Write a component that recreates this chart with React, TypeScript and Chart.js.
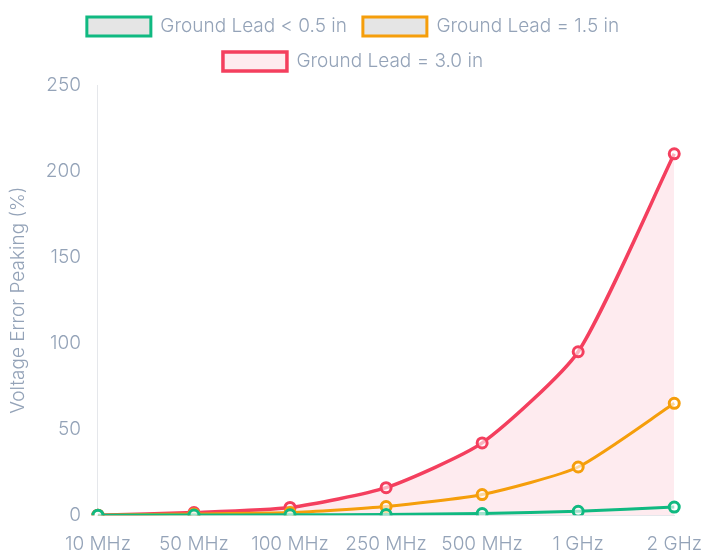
import { useEffect, useRef } from "react";
import { Chart, registerables, ChartConfiguration, Plugin } from "chart.js";

Chart.register(...registerables);

const frequencies = ["10 MHz", "50 MHz", "100 MHz", "250 MHz", "500 MHz", "1 GHz", "2 GHz"];
const leadShort = [0, 0.1, 0.2, 0.4, 1, 2.3, 4.7];
const lead15 = [0, 0.7, 1.5, 5, 12, 28, 65];
const lead30 = [0, 1.5, 4.5, 16, 42, 95, 210];

const textColor = "#94a3b8";
const fontFamily = "Inter, 'Noto Sans', sans-serif";

// a bit of extra room under the legend
const legendGap: Plugin = {
  id: "legendGap",
  beforeInit(chart) {
    const legend = chart.legend as any;
    if (!legend) return;
    const origFit = legend.fit;
    legend.fit = function () {
      origFit.bind(this)();
      this.height += 4;
    };
  },
};

export default function App() {
  const chartRef = useRef<HTMLCanvasElement | null>(null);

  useEffect(() => {
    if (!chartRef.current) return;
    const ctx = chartRef.current.getContext("2d");
    if (!ctx) return;

    const pointStyle = {
      pointRadius: 5,
      pointBorderWidth: 3,
      pointBackgroundColor: "rgba(255,255,255,0.6)",
      tension: 0.2,
    };

    const config: ChartConfiguration = {
      type: "line",
      data: {
        labels: frequencies,
        datasets: [
          {
            label: "Ground Lead < 0.5 in",
            data: leadShort,
            borderColor: "#10b981",
            backgroundColor: "rgba(0,0,0,0.1)",
            borderWidth: 3,
            fill: false,
            ...pointStyle,
          },
          {
            label: "Ground Lead = 1.5 in",
            data: lead15,
            borderColor: "#f59e0b",
            backgroundColor: "rgba(0,0,0,0.1)",
            borderWidth: 3,
            fill: false,
            ...pointStyle,
          },
          {
            label: "Ground Lead = 3.0 in",
            data: lead30,
            borderColor: "#f43f5e",
            backgroundColor: "rgba(244, 63, 94, 0.1)",
            borderWidth: 3.5,
            fill: "origin",
            ...pointStyle,
          },
        ],
      },
      options: {
        responsive: true,
        maintainAspectRatio: false,
        animation: false,
        layout: { padding: { top: 1, bottom: 0 } },
        plugins: {
          legend: {
            position: "top",
            labels: {
              color: textColor,
              boxWidth: 64,
              boxHeight: 19,
              padding: 16,
              font: { family: fontFamily, size: 19, weight: 300 },
            },
          },
        },
        scales: {
          x: {
            grid: { display: false, tickLength: 14 },
            border: { color: "#e5e7eb" },
            ticks: {
              color: textColor,
              maxRotation: 0,
              padding: 4,
              font: { family: fontFamily, size: 19, weight: 300 },
            },
          },
          y: {
            min: 0,
            max: 250,
            grid: { display: false },
            border: { color: "#e5e7eb" },
            ticks: {
              stepSize: 50,
              color: textColor,
              padding: 9,
              font: { family: fontFamily, size: 19, weight: 300 },
            },
            title: {
              display: true,
              text: "Voltage Error Peaking (%)",
              color: textColor,
              padding: { top: 7, bottom: 7 },
              font: { family: fontFamily, size: 19, weight: 300 },
            },
          },
        },
      },
      plugins: [legendGap],
    };

    const chart = new Chart(ctx, config);
    return () => {
      chart.destroy();
    };
  }, []);

  return (
    <div style={{ position: "fixed", left: 0, top: 0, width: 706, height: 560 }}>
      <canvas ref={chartRef}></canvas>
    </div>
  );
}
